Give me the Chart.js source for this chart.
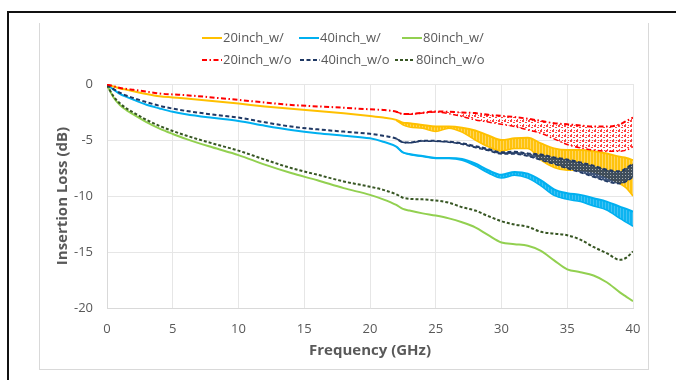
<!DOCTYPE html>
<html><head><meta charset="utf-8">
<script src="https://cdn.jsdelivr.net/npm/chart.js@4"></script>
<style>
html,body{margin:0;padding:0;background:#fff;}
#wrap{position:relative;width:676px;height:380px;overflow:hidden;background:#fff;}
#outer{position:absolute;left:7px;top:11px;width:700px;height:400px;border-left:2px solid #111;border-top:2px solid #111;}
#inner{position:absolute;left:39px;top:23px;width:608px;height:346px;border:1px solid #d9d9d9;border-top:none;}
canvas{position:absolute;left:0;top:0;}
</style></head>
<body>
<div id="wrap"><div id="outer"></div><div id="inner"></div><canvas id="c" width="676" height="380"></canvas></div>
<script>
// Frequency points (GHz)
const freq = [0,0.5,1,1.5,2,3,4,5,6,8,10,12,14,16,18,20,21,22,22.5,23,24,25,26,27,28,29,30,31,32,33,34,35,36,37,38,39,39.5,40];
// Frequencies where the traces show a ripple band (lower edge given separately)
const bandFreq = [22,22.5,23,24,25,26,27,28,29,30,31,32,33,34,35,36,37,38,39,39.5,40];

// Insertion loss (dB), upper edge / main trace
const w20 = [-0.05,-0.22,-0.4,-0.52,-0.65,-0.9,-1.1,-1.2,-1.3,-1.52,-1.75,-2.0,-2.22,-2.42,-2.62,-2.86,-3.0,-3.2,-3.45,-3.5,-3.66,-3.8,-3.8,-3.9,-4.15,-4.6,-5.0,-4.85,-4.8,-5.3,-5.75,-5.9,-5.9,-6.0,-6.2,-6.5,-6.6,-6.8];
const w40 = [-0.08,-0.5,-0.9,-1.15,-1.4,-1.85,-2.18,-2.48,-2.7,-3.02,-3.3,-3.72,-4.1,-4.4,-4.62,-4.85,-5.15,-5.6,-6.1,-6.25,-6.43,-6.6,-6.6,-6.7,-7.1,-7.7,-8.1,-7.85,-8.0,-8.6,-9.4,-9.75,-9.9,-10.2,-10.5,-10.95,-11.15,-11.4];
const w80 = [-0.1,-1.2,-1.9,-2.35,-2.72,-3.4,-3.98,-4.46,-4.9,-5.65,-6.35,-7.2,-7.95,-8.6,-9.3,-9.9,-10.3,-10.8,-11.15,-11.3,-11.55,-11.75,-12.0,-12.35,-12.8,-13.5,-14.15,-14.3,-14.45,-14.9,-15.75,-16.55,-16.8,-17.1,-17.7,-18.6,-19.0,-19.4];
const wo20 = [-0.05,-0.2,-0.35,-0.45,-0.52,-0.68,-0.85,-0.93,-1.0,-1.2,-1.42,-1.65,-1.87,-2.0,-2.12,-2.26,-2.32,-2.48,-2.68,-2.68,-2.56,-2.45,-2.48,-2.55,-2.6,-2.75,-2.85,-2.95,-3.1,-3.3,-3.5,-3.6,-3.7,-3.8,-3.8,-3.6,-3.3,-3.0];
const wo40 = [-0.08,-0.45,-0.8,-1.05,-1.25,-1.62,-1.95,-2.2,-2.4,-2.72,-3.0,-3.42,-3.8,-4.05,-4.25,-4.45,-4.62,-4.88,-5.2,-5.22,-5.06,-5.08,-5.15,-5.3,-5.55,-5.8,-6.1,-6.05,-6.2,-6.3,-6.55,-6.75,-7.0,-7.3,-7.65,-7.8,-7.5,-7.1];
const wo80 = [-0.1,-1.1,-1.75,-2.2,-2.55,-3.2,-3.75,-4.2,-4.6,-5.3,-5.95,-6.75,-7.5,-8.1,-8.7,-9.17,-9.45,-9.85,-10.15,-10.25,-10.3,-10.4,-10.6,-11.0,-11.3,-11.8,-12.25,-12.55,-12.75,-13.2,-13.35,-13.5,-13.9,-14.55,-15.1,-15.7,-15.5,-14.95];

// Lower edge of the ripple bands (on bandFreq)
const w20Lo = [-3.25,-3.65,-3.85,-3.96,-4.25,-3.95,-4.3,-5.0,-5.6,-6.0,-5.75,-5.75,-6.8,-7.45,-7.7,-7.7,-7.85,-8.3,-8.9,-9.3,-10.0];
const w40Lo = [-5.6,-6.1,-6.3,-6.48,-6.65,-6.65,-6.8,-7.3,-7.95,-8.4,-8.15,-8.4,-9.1,-9.95,-10.3,-10.5,-10.9,-11.25,-12.0,-12.35,-12.7];
const wo20Lo = [-2.48,-2.68,-2.7,-2.6,-2.5,-2.65,-2.9,-3.2,-3.4,-3.6,-3.8,-4.1,-4.4,-4.9,-5.4,-5.7,-5.9,-6.0,-6.0,-5.9,-5.6];
const wo40Lo = [-4.88,-5.2,-5.25,-5.1,-5.12,-5.2,-5.38,-5.68,-5.95,-6.25,-6.25,-6.45,-6.8,-7.15,-7.55,-7.9,-8.3,-8.7,-8.9,-8.7,-8.3];

const labels = ['20inch_w/','40inch_w/','80inch_w/','20inch_w/o','40inch_w/o','80inch_w/o'];
const xTicksStep = 5, yTicksStep = 5;

const pts = (xs, ys) => xs.map((x, i) => ({x: x, y: ys[i]}));

// texture patterns that imitate the dense ripple of the measured traces
function makePattern(w, h, bg, fg, cells) {
  const c = document.createElement('canvas');
  c.width = w; c.height = h;
  const g = c.getContext('2d');
  if (bg) { g.fillStyle = bg; g.fillRect(0, 0, w, h); }
  g.fillStyle = fg;
  cells.forEach(r => g.fillRect(r[0], r[1], r[2], r[3]));
  return g.createPattern(c, 'repeat');
}
const ctx0 = document.getElementById('c').getContext('2d');
const redTex = makePattern(6, 5, null, 'rgba(255,0,0,0.75)', [[0,0,2,2],[3,2,2,1],[1,4,1,1],[4,0,1,1]]);
const navyTex = makePattern(3, 3, 'rgba(31,56,100,0.85)', 'rgba(255,255,255,0.55)', [[1,1,1,1]]);
const yellowTex = makePattern(3, 1, 'rgba(255,192,0,0.95)', 'rgba(255,220,120,0.8)', [[2,0,1,1]]);
const blueTex = makePattern(3, 1, 'rgba(0,176,240,0.95)', 'rgba(80,200,245,0.8)', [[2,0,1,1]]);

const series = [
  {label: labels[0], hi: w20,  lo: w20Lo,  color: '#FFC000', dash: [],              band: yellowTex, order: 4},
  {label: labels[1], hi: w40,  lo: w40Lo,  color: '#00B0F0', dash: [],              band: blueTex,   order: 5},
  {label: labels[2], hi: w80,  lo: null,   color: '#92D050', dash: [],              band: null,      order: 6},
  {label: labels[3], hi: wo20, lo: wo20Lo, color: '#FF0000', dash: [5,2.5,1.5,2.5], band: redTex,    order: 1},
  {label: labels[4], hi: wo40, lo: wo40Lo, color: '#1F3864', dash: [4,2.5],         band: navyTex,   order: 2},
  {label: labels[5], hi: wo80, lo: null,   color: '#375623', dash: [3,2],           band: null,      order: 3}
];

const datasets = [];
series.forEach(s => {
  datasets.push({
    label: s.label, data: pts(freq, s.hi), borderColor: s.color, backgroundColor: s.color,
    borderDash: s.dash, borderWidth: 2, pointRadius: 0, fill: false,
    cubicInterpolationMode: 'monotone', order: s.order
  });
});
series.forEach((s, i) => {
  if (!s.lo) return;
  datasets.push({
    label: '', data: pts(bandFreq, s.lo), borderColor: s.color, backgroundColor: s.band,
    borderDash: s.dash, borderWidth: 1.5, pointRadius: 0, fill: i,
    cubicInterpolationMode: 'monotone', order: s.order
  });
});

const legendPlugin = {
  id: 'rowLegend',
  afterDraw(chart) {
    const ctx = chart.ctx;
    const items = chart.data.datasets.filter(d => d.label);
    const textX = [[223, 320, 423], [223, 321, 416]];
    const rowY = [38, 60];
    ctx.save();
    ctx.font = '13px "Open Sans"';
    ctx.textBaseline = 'middle';
    ctx.textAlign = 'left';
    items.forEach((d, i) => {
      const r = Math.floor(i / 3), c = i % 3;
      const tx = textX[r][c], y = rowY[r];
      ctx.strokeStyle = d.borderColor;
      ctx.lineWidth = 2;
      ctx.setLineDash(d.borderDash || []);
      ctx.beginPath(); ctx.moveTo(tx - 21, y); ctx.lineTo(tx - 1, y); ctx.stroke();
      ctx.setLineDash([]);
      ctx.fillStyle = '#595959';
      ctx.fillText(d.label, tx, y);
    });
    ctx.restore();
  }
};

new Chart(document.getElementById('c'), {
  type: 'line',
  data: {datasets: datasets},
  options: {
    responsive: false, animation: false, devicePixelRatio: 1,
    layout: {padding: {left: 50, right: 43, top: 84, bottom: 10}},
    plugins: {legend: {display: false}, tooltip: {enabled: false}},
    scales: {
      x: {
        type: 'linear', min: 0, max: 40,
        ticks: {stepSize: xTicksStep, color: '#595959', font: {family: 'Open Sans', size: 13}, padding: 13, maxRotation: 0},
        grid: {color: '#e6e6e6', drawTicks: false},
        border: {color: '#d9d9d9'},
        title: {display: true, text: 'Frequency (GHz)', color: '#595959', font: {family: 'Open Sans', size: 15, weight: 'bold'}, padding: {top: 0, bottom: 10}},
        afterFit: s => { s.height = 62; }
      },
      y: {
        min: -20, max: 0,
        ticks: {stepSize: yTicksStep, color: '#595959', font: {family: 'Open Sans', size: 13}, padding: 14},
        grid: {color: '#e6e6e6', drawTicks: false},
        border: {color: '#d9d9d9'},
        title: {display: true, text: 'Insertion Loss (dB)', color: '#595959', font: {family: 'Open Sans', size: 15, weight: 'bold'}, padding: {top: 4, bottom: 0}},
        afterFit: s => { s.width = 57; }
      }
    }
  },
  plugins: [legendPlugin]
});
</script>
</body></html>
